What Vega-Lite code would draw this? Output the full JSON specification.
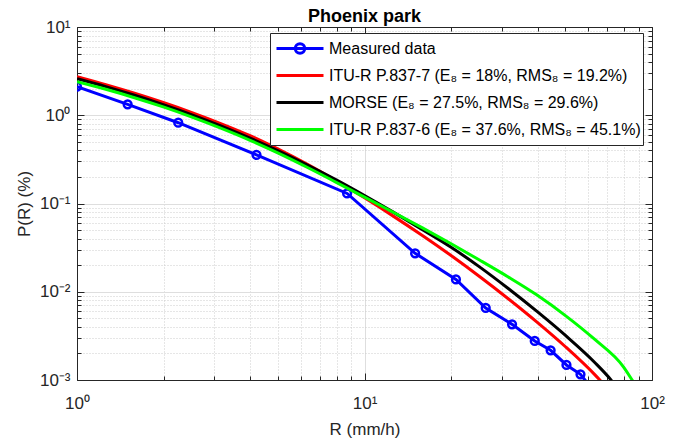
{
  "$schema": "https://vega.github.io/schema/vega-lite/v6.json",
  "width": 575,
  "height": 353,
  "autosize": {"type": "none"},
  "padding": {"left": 77, "top": 27, "right": 36, "bottom": 63},
  "background": "white",
  "title": {"text": "Phoenix park", "fontSize": 18, "fontWeight": "bold", "font": "Liberation Sans", "color": "#000000", "anchor": "middle", "offset": -8},
  "config": {
    "font": "Liberation Sans",
    "view": {"stroke": "#262626", "strokeWidth": 1}
  },
  "datasets": {
    "measured": [
      {"R": 1, "P": 2.11, "series": "Measured data", "marker": 1},
      {"R": 1.5, "P": 1.33, "series": "Measured data", "marker": 1},
      {"R": 2.25, "P": 0.823, "series": "Measured data", "marker": 1},
      {"R": 4.21, "P": 0.355, "series": "Measured data", "marker": 1},
      {"R": 8.7, "P": 0.13, "series": "Measured data", "marker": 1},
      {"R": 15.0, "P": 0.0273, "series": "Measured data", "marker": 1},
      {"R": 20.8, "P": 0.0138, "series": "Measured data", "marker": 1},
      {"R": 26.4, "P": 0.00655, "series": "Measured data", "marker": 1},
      {"R": 32.6, "P": 0.00427, "series": "Measured data", "marker": 1},
      {"R": 39.1, "P": 0.00277, "series": "Measured data", "marker": 1},
      {"R": 44.4, "P": 0.00217, "series": "Measured data", "marker": 1},
      {"R": 50.4, "P": 0.00148, "series": "Measured data", "marker": 1},
      {"R": 56.4, "P": 0.00116, "series": "Measured data", "marker": 1},
      {"R": 59.5, "P": 0.00093, "series": "Measured data", "marker": 0}
    ],
    "curves": [
      {"R": 1, "P": 2.729, "series": "ITU-R P.837-7 (E₈ = 18%, RMS₈ = 19.2%)"},
      {"R": 1.259, "P": 2.218, "series": "ITU-R P.837-7 (E₈ = 18%, RMS₈ = 19.2%)"},
      {"R": 1.585, "P": 1.774, "series": "ITU-R P.837-7 (E₈ = 18%, RMS₈ = 19.2%)"},
      {"R": 1.995, "P": 1.393, "series": "ITU-R P.837-7 (E₈ = 18%, RMS₈ = 19.2%)"},
      {"R": 2.512, "P": 1.0715, "series": "ITU-R P.837-7 (E₈ = 18%, RMS₈ = 19.2%)"},
      {"R": 3.162, "P": 0.8054, "series": "ITU-R P.837-7 (E₈ = 18%, RMS₈ = 19.2%)"},
      {"R": 3.981, "P": 0.5902, "series": "ITU-R P.837-7 (E₈ = 18%, RMS₈ = 19.2%)"},
      {"R": 5.012, "P": 0.413, "series": "ITU-R P.837-7 (E₈ = 18%, RMS₈ = 19.2%)"},
      {"R": 6.31, "P": 0.2793, "series": "ITU-R P.837-7 (E₈ = 18%, RMS₈ = 19.2%)"},
      {"R": 7.943, "P": 0.1824, "series": "ITU-R P.837-7 (E₈ = 18%, RMS₈ = 19.2%)"},
      {"R": 10, "P": 0.1159, "series": "ITU-R P.837-7 (E₈ = 18%, RMS₈ = 19.2%)"},
      {"R": 12.59, "P": 0.07194, "series": "ITU-R P.837-7 (E₈ = 18%, RMS₈ = 19.2%)"},
      {"R": 15.85, "P": 0.04365, "series": "ITU-R P.837-7 (E₈ = 18%, RMS₈ = 19.2%)"},
      {"R": 19.95, "P": 0.02588, "series": "ITU-R P.837-7 (E₈ = 18%, RMS₈ = 19.2%)"},
      {"R": 25.12, "P": 0.01489, "series": "ITU-R P.837-7 (E₈ = 18%, RMS₈ = 19.2%)"},
      {"R": 31.62, "P": 0.008337, "series": "ITU-R P.837-7 (E₈ = 18%, RMS₈ = 19.2%)"},
      {"R": 39.81, "P": 0.004529, "series": "ITU-R P.837-7 (E₈ = 18%, RMS₈ = 19.2%)"},
      {"R": 50.12, "P": 0.002366, "series": "ITU-R P.837-7 (E₈ = 18%, RMS₈ = 19.2%)"},
      {"R": 63.1, "P": 0.001159, "series": "ITU-R P.837-7 (E₈ = 18%, RMS₈ = 19.2%)"},
      {"R": 67.61, "P": 0.000912, "series": "ITU-R P.837-7 (E₈ = 18%, RMS₈ = 19.2%)"},
      {"R": 1, "P": 2.594, "series": "MORSE (E₈ = 27.5%, RMS₈ = 29.6%)"},
      {"R": 1.259, "P": 2.109, "series": "MORSE (E₈ = 27.5%, RMS₈ = 29.6%)"},
      {"R": 1.585, "P": 1.683, "series": "MORSE (E₈ = 27.5%, RMS₈ = 29.6%)"},
      {"R": 1.995, "P": 1.318, "series": "MORSE (E₈ = 27.5%, RMS₈ = 29.6%)"},
      {"R": 2.512, "P": 1.012, "series": "MORSE (E₈ = 27.5%, RMS₈ = 29.6%)"},
      {"R": 3.162, "P": 0.7586, "series": "MORSE (E₈ = 27.5%, RMS₈ = 29.6%)"},
      {"R": 3.981, "P": 0.5546, "series": "MORSE (E₈ = 27.5%, RMS₈ = 29.6%)"},
      {"R": 5.012, "P": 0.3954, "series": "MORSE (E₈ = 27.5%, RMS₈ = 29.6%)"},
      {"R": 6.31, "P": 0.2748, "series": "MORSE (E₈ = 27.5%, RMS₈ = 29.6%)"},
      {"R": 7.943, "P": 0.1862, "series": "MORSE (E₈ = 27.5%, RMS₈ = 29.6%)"},
      {"R": 10, "P": 0.123, "series": "MORSE (E₈ = 27.5%, RMS₈ = 29.6%)"},
      {"R": 12.59, "P": 0.0798, "series": "MORSE (E₈ = 27.5%, RMS₈ = 29.6%)"},
      {"R": 15.85, "P": 0.05093, "series": "MORSE (E₈ = 27.5%, RMS₈ = 29.6%)"},
      {"R": 19.95, "P": 0.03214, "series": "MORSE (E₈ = 27.5%, RMS₈ = 29.6%)"},
      {"R": 25.12, "P": 0.01914, "series": "MORSE (E₈ = 27.5%, RMS₈ = 29.6%)"},
      {"R": 31.62, "P": 0.01089, "series": "MORSE (E₈ = 27.5%, RMS₈ = 29.6%)"},
      {"R": 39.81, "P": 0.005984, "series": "MORSE (E₈ = 27.5%, RMS₈ = 29.6%)"},
      {"R": 50.12, "P": 0.003177, "series": "MORSE (E₈ = 27.5%, RMS₈ = 29.6%)"},
      {"R": 63.1, "P": 0.001592, "series": "MORSE (E₈ = 27.5%, RMS₈ = 29.6%)"},
      {"R": 72.11, "P": 0.000998, "series": "MORSE (E₈ = 27.5%, RMS₈ = 29.6%)"},
      {"R": 74.13, "P": 0.000891, "series": "MORSE (E₈ = 27.5%, RMS₈ = 29.6%)"},
      {"R": 1, "P": 2.399, "series": "ITU-R P.837-6 (E₈ = 37.6%, RMS₈ = 45.1%)"},
      {"R": 1.259, "P": 1.968, "series": "ITU-R P.837-6 (E₈ = 37.6%, RMS₈ = 45.1%)"},
      {"R": 1.585, "P": 1.581, "series": "ITU-R P.837-6 (E₈ = 37.6%, RMS₈ = 45.1%)"},
      {"R": 1.995, "P": 1.242, "series": "ITU-R P.837-6 (E₈ = 37.6%, RMS₈ = 45.1%)"},
      {"R": 2.512, "P": 0.9528, "series": "ITU-R P.837-6 (E₈ = 37.6%, RMS₈ = 45.1%)"},
      {"R": 3.162, "P": 0.7145, "series": "ITU-R P.837-6 (E₈ = 37.6%, RMS₈ = 45.1%)"},
      {"R": 3.981, "P": 0.5236, "series": "ITU-R P.837-6 (E₈ = 37.6%, RMS₈ = 45.1%)"},
      {"R": 5.012, "P": 0.3724, "series": "ITU-R P.837-6 (E₈ = 37.6%, RMS₈ = 45.1%)"},
      {"R": 6.31, "P": 0.2576, "series": "ITU-R P.837-6 (E₈ = 37.6%, RMS₈ = 45.1%)"},
      {"R": 7.943, "P": 0.175, "series": "ITU-R P.837-6 (E₈ = 37.6%, RMS₈ = 45.1%)"},
      {"R": 10, "P": 0.1183, "series": "ITU-R P.837-6 (E₈ = 37.6%, RMS₈ = 45.1%)"},
      {"R": 12.59, "P": 0.07962, "series": "ITU-R P.837-6 (E₈ = 37.6%, RMS₈ = 45.1%)"},
      {"R": 15.85, "P": 0.05321, "series": "ITU-R P.837-6 (E₈ = 37.6%, RMS₈ = 45.1%)"},
      {"R": 19.95, "P": 0.03516, "series": "ITU-R P.837-6 (E₈ = 37.6%, RMS₈ = 45.1%)"},
      {"R": 25.12, "P": 0.02286, "series": "ITU-R P.837-6 (E₈ = 37.6%, RMS₈ = 45.1%)"},
      {"R": 31.62, "P": 0.01469, "series": "ITU-R P.837-6 (E₈ = 37.6%, RMS₈ = 45.1%)"},
      {"R": 39.81, "P": 0.009162, "series": "ITU-R P.837-6 (E₈ = 37.6%, RMS₈ = 45.1%)"},
      {"R": 50.12, "P": 0.005333, "series": "ITU-R P.837-6 (E₈ = 37.6%, RMS₈ = 45.1%)"},
      {"R": 63.1, "P": 0.002897, "series": "ITU-R P.837-6 (E₈ = 37.6%, RMS₈ = 45.1%)"},
      {"R": 79.43, "P": 0.001419, "series": "ITU-R P.837-6 (E₈ = 37.6%, RMS₈ = 45.1%)"},
      {"R": 85.31, "P": 0.001, "series": "ITU-R P.837-6 (E₈ = 37.6%, RMS₈ = 45.1%)"},
      {"R": 88.1, "P": 0.000851, "series": "ITU-R P.837-6 (E₈ = 37.6%, RMS₈ = 45.1%)"}
    ]
  },
  "layer": [
    {
      "data": {"name": "curves"},
      "mark": {"type": "point", "opacity": 0, "clip": true},
      "encoding": {
        "x": {"field": "R", "type": "quantitative", "scale": {"type": "log", "domain": [1, 100], "nice": false},
          "axis": {"orient": "top", "title": null, "labels": false, "grid": false, "minExtent": 0, "maxExtent": 0,
            "values": [1,2,3,4,5,6,7,8,9,10,20,30,40,50,60,70,80,90,100],
            "domainColor": "#262626", "tickColor": "#262626",
            "tickSize": {"condition": {"test": "abs(log(datum.value)/LN10 - round(log(datum.value)/LN10)) < 0.01", "value": -7}, "value": -4}}},
        "y": {"field": "P", "type": "quantitative", "scale": {"type": "log", "domain": [0.001, 10], "nice": false},
          "axis": {"orient": "right", "title": null, "labels": false, "grid": false, "minExtent": 0, "maxExtent": 0,
            "values": [0.001,0.002,0.003,0.004,0.005,0.006,0.007,0.008,0.009,0.01,0.02,0.03,0.04,0.05,0.06,0.07,0.08,0.09,0.1,0.2,0.3,0.4,0.5,0.6,0.7,0.8,0.9,1,2,3,4,5,6,7,8,9,10],
            "domainColor": "#262626", "tickColor": "#262626",
            "tickSize": {"condition": {"test": "abs(log(datum.value)/LN10 - round(log(datum.value)/LN10)) < 0.01", "value": -7}, "value": -4}}}
      }
    },
    {
      "data": {"name": "measured"},
      "mark": {"type": "line", "strokeWidth": 3, "clip": true},
      "encoding": {
        "x": {"field": "R", "type": "quantitative", "scale": {"type": "log", "domain": [1, 100], "nice": false},
          "axis": {"orient": "bottom", "title": "R (mm/h)",
            "values": [1,2,3,4,5,6,7,8,9,10,20,30,40,50,60,70,80,90,100],
            "grid": true,
            "gridColor": {"condition": {"test": "abs(log(datum.value)/LN10 - round(log(datum.value)/LN10)) < 0.01", "value": "#dedede"}, "value": "#cccccc"},
            "gridDash": {"condition": {"test": "abs(log(datum.value)/LN10 - round(log(datum.value)/LN10)) < 0.01", "value": []}, "value": [1, 2]},
            "tickSize": {"condition": {"test": "abs(log(datum.value)/LN10 - round(log(datum.value)/LN10)) < 0.01", "value": -7}, "value": -4},
            "tickColor": "#262626", "domainColor": "#262626",
            "labelExpr": "abs(log(datum.value)/LN10 - round(log(datum.value)/LN10)) < 0.01 ? '10' + ['⁻³','⁻²','⁻¹','⁰','¹','²'][round(log(datum.value)/LN10) + 3] : ''",
            "labelFontSize": 17, "labelColor": "#262626", "labelPadding": 22, "labelFlush": false, "labelOverlap": false, "labelBound": false,
            "titleFontSize": 17, "titleFontWeight": "normal", "titleColor": "#262626", "titleBaseline": "middle", "titleX": 287.5, "titleY": 49}},
        "y": {"field": "P", "type": "quantitative", "scale": {"type": "log", "domain": [0.001, 10], "nice": false},
          "axis": {"orient": "left", "title": "P(R) (%)",
            "values": [0.001,0.002,0.003,0.004,0.005,0.006,0.007,0.008,0.009,0.01,0.02,0.03,0.04,0.05,0.06,0.07,0.08,0.09,0.1,0.2,0.3,0.4,0.5,0.6,0.7,0.8,0.9,1,2,3,4,5,6,7,8,9,10],
            "grid": true,
            "gridColor": {"condition": {"test": "abs(log(datum.value)/LN10 - round(log(datum.value)/LN10)) < 0.01", "value": "#dedede"}, "value": "#cccccc"},
            "gridDash": {"condition": {"test": "abs(log(datum.value)/LN10 - round(log(datum.value)/LN10)) < 0.01", "value": []}, "value": [1, 2]},
            "tickSize": {"condition": {"test": "abs(log(datum.value)/LN10 - round(log(datum.value)/LN10)) < 0.01", "value": -7}, "value": -4},
            "tickColor": "#262626", "domainColor": "#262626",
            "labelExpr": "abs(log(datum.value)/LN10 - round(log(datum.value)/LN10)) < 0.01 ? '10' + ['⁻³','⁻²','⁻¹','⁰','¹','²'][round(log(datum.value)/LN10) + 3] : ''",
            "labelFontSize": 17, "labelColor": "#262626", "labelPadding": 14, "labelOverlap": false, "labelFlush": false, "labelBound": false,
            "titleFontSize": 17, "titleFontWeight": "normal", "titleColor": "#262626", "titleBaseline": "middle", "titleX": -53, "titleY": 176.5}},
        "color": {"field": "series", "type": "nominal",
          "scale": {"domain": ["Measured data", "ITU-R P.837-7 (E₈ = 18%, RMS₈ = 19.2%)", "MORSE (E₈ = 27.5%, RMS₈ = 29.6%)", "ITU-R P.837-6 (E₈ = 37.6%, RMS₈ = 45.1%)"],
                    "range": ["#0000ff", "#ff0000", "#000000", "#00ff00"]},
          "legend": {"title": null, "orient": "none", "legendX": 193, "legendY": 6,
            "padding": 2, "clipHeight": 27, "rowPadding": 0, "symbolOffset": 3, "labelOffset": 4,
            "labelFontSize": 16, "labelColor": "#000000", "labelLimit": 0,
            "fillColor": "#ffffff", "strokeColor": "#262626",
            "symbolSize": 2209, "symbolStrokeWidth": 3,
            "encode": {"symbols": {"update": {
              "shape": {"signal": "datum.value === 'Measured data' ? 'M-1,0H1M0.2,0A0.2,0.2,0,1,1,-0.2,0A0.2,0.2,0,1,1,0.2,0' : 'stroke'"},
              "size": {"value": 2209},
              "fill": {"value": "transparent"},
              "strokeWidth": {"value": 3}
            }}}}}
      }
    },
    {
      "data": {"name": "measured"},
      "transform": [{"filter": "datum.marker == 1"}],
      "mark": {"type": "point", "shape": "circle", "filled": false, "size": 60, "strokeWidth": 2.5, "opacity": 1, "clip": true},
      "encoding": {
        "x": {"field": "R", "type": "quantitative", "scale": {"type": "log", "domain": [1, 100], "nice": false}, "axis": null},
        "y": {"field": "P", "type": "quantitative", "scale": {"type": "log", "domain": [0.001, 10], "nice": false}, "axis": null},
        "color": {"field": "series", "type": "nominal"}
      }
    },
    {
      "data": {"name": "curves"},
      "mark": {"type": "line", "strokeWidth": 3, "clip": true, "interpolate": "monotone"},
      "encoding": {
        "x": {"field": "R", "type": "quantitative", "scale": {"type": "log", "domain": [1, 100], "nice": false}, "axis": null},
        "y": {"field": "P", "type": "quantitative", "scale": {"type": "log", "domain": [0.001, 10], "nice": false}, "axis": null},
        "color": {"field": "series", "type": "nominal"}
      }
    }
  ],
  "resolve": {"axis": {"x": "independent", "y": "independent"}}
}
